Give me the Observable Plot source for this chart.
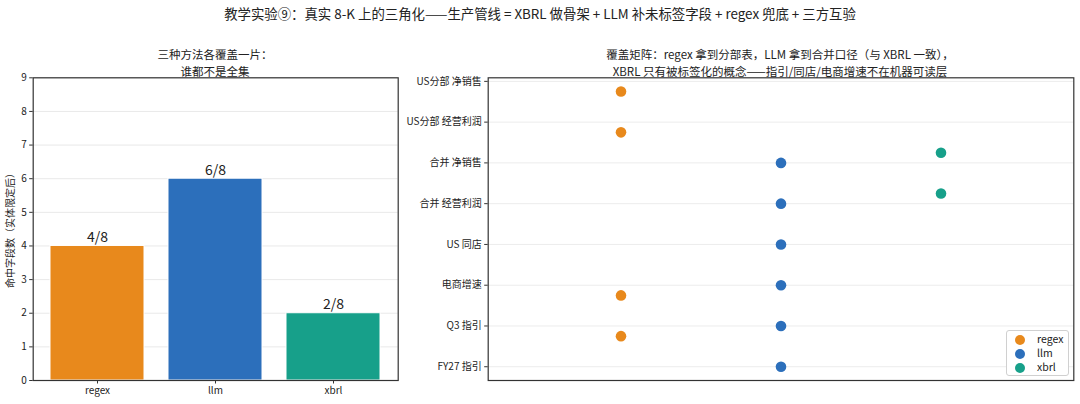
<!DOCTYPE html>
<html><head><meta charset="utf-8">
<script src="https://cdn.jsdelivr.net/npm/d3@7"></script>
<script src="https://cdn.jsdelivr.net/npm/@observablehq/plot@0.6"></script>
<style>
  html,body{margin:0;padding:0;background:#fff;}
  body{width:1080px;height:404px;overflow:hidden;font-family:"Noto Sans CJK SC","Noto Sans",sans-serif;color:#222;}
  #wrap{position:relative;width:1080px;height:404px;}
  .abs{position:absolute;}
  .title{left:0;width:1080px;top:4px;text-align:center;font-size:13.4px;line-height:18px;}
  .sub{text-align:center;font-size:11.5px;line-height:16px;white-space:nowrap;}
  .legend{border:1px solid #d0d0d0;border-radius:3px;background:#fff;font-size:10.5px;}
  .lg-row{position:absolute;left:0;height:14px;line-height:14px;}
  .lg-dot{position:absolute;width:10px;height:10px;border-radius:50%;top:2px;left:8px;}
  .lg-txt{position:absolute;left:30px;top:-1px;}
</style>
</head><body>
<div id="wrap"></div>
<script>
// ---- data ----
const methods = ["regex", "llm", "xbrl"];
const hitCounts = [4, 6, 2];
const totalFields = 8;
const methodColors = ["#E8891C", "#2C6FBB", "#17A08A"];
const fields = ["US分部 净销售", "US分部 经营利润", "合并 净销售", "合并 经营利润", "US 同店", "电商增速", "Q3 指引", "FY27 指引"];
const regexHits = ["US分部 净销售", "US分部 经营利润", "电商增速", "Q3 指引"];
const llmHits = ["合并 净销售", "合并 经营利润", "US 同店", "电商增速", "Q3 指引", "FY27 指引"];
const xbrlHits = ["合并 净销售", "合并 经营利润"];
const yTicksLeft = [0,1,2,3,4,5,6,7,8,9];

const mainTitle = "教学实验⑨：真实 8-K 上的三角化——生产管线 = XBRL 做骨架 + LLM 补未标签字段 + regex 兜底 + 三方互验";
const leftTitle = ["三种方法各覆盖一片：", "谁都不是全集"];
const rightTitle = ["覆盖矩阵：regex 拿到分部表，LLM 拿到合并口径（与 XBRL 一致），", "XBRL 只有被标签化的概念——指引/同店/电商增速不在机器可读层"];
const yLabelLeft = "命中字段数（实体限定后）";

// ---- build tables ----
const barData = methods.map((m, i) => ({method: m, hits: hitCounts[i], label: `${hitCounts[i]}/${totalFields}`}));
const hitLists = {regex: regexHits, llm: llmHits, xbrl: xbrlHits};
const rowOffset = {regex: 0.25, llm: 0, xbrl: -0.25};
const dotData = methods.flatMap((m, mi) => hitLists[m].map(f => ({method: m, mi, fi: fields.indexOf(f)})));

const wrap = document.getElementById("wrap");
const font = '"Noto Sans CJK SC","Noto Sans",sans-serif';
const colorScale = {domain: methods, range: methodColors};

function add(el, cls, css, html) {
  const d = document.createElement("div");
  d.className = "abs " + (cls || "");
  Object.assign(d.style, css || {});
  if (html != null) d.innerHTML = html;
  el.appendChild(d);
  return d;
}

add(wrap, "title", {}, mainTitle);
leftTitle.forEach((t, i) => add(wrap, "sub", {left: "15px", width: "400px", top: (46 + i * 16.5) + "px"}, t));
rightTitle.forEach((t, i) => add(wrap, "sub", {left: "480px", width: "600px", top: (46 + i * 16.5) + "px"}, t));

// ---- left chart ----
const left = Plot.plot({
  width: 410, height: 344,
  marginLeft: 32.7, marginRight: 12.3, marginTop: 17.3, marginBottom: 24,
  style: {fontFamily: font, fontSize: "10px", color: "#222", background: "transparent", overflow: "visible"},
  x: {domain: methods, paddingInner: 0.2, paddingOuter: 0.14, label: null},
  y: {domain: [0, 9], label: null},
  color: colorScale,
  marks: [
    Plot.gridY(yTicksLeft, {stroke: "#e9e9e9", strokeOpacity: 1, strokeWidth: 1}),
    Plot.barY(barData, {x: "method", y: "hits", fill: "method", stroke: "#ffffff", strokeWidth: 1}),
    Plot.text(barData, {x: "method", y: "hits", text: "label", lineAnchor: "bottom", dy: -4, fontSize: 14, fill: "#222"}),
    Plot.axisY({ticks: yTicksLeft, tickSize: 3.5, tickPadding: 3, label: null, stroke: "#333"}),
    Plot.axisX({tickSize: 3.5, tickPadding: 3, label: null, stroke: "#333"}),
    Plot.frame({stroke: "#333", strokeWidth: 1.2})
  ]
});
const lw = add(wrap, "", {left: "0px", top: "60px"});
lw.appendChild(left);
add(wrap, "", {left: "-52px", top: "222px", width: "124px", textAlign: "center", fontSize: "10px", lineHeight: "12px", transform: "rotate(-90deg)", whiteSpace: "nowrap"}, yLabelLeft);

// ---- right chart ----
const right = Plot.plot({
  width: 680, height: 344,
  marginLeft: 87.7, marginRight: 6.7, marginTop: 17.3, marginBottom: 24,
  style: {fontFamily: font, fontSize: "10px", color: "#222", background: "transparent", overflow: "visible"},
  x: {domain: [-0.83, 2.83], axis: null},
  y: {domain: [-0.0875, 7.3375], reverse: true, label: null},
  color: colorScale,
  marks: [
    Plot.gridY(d3.range(fields.length), {stroke: "#ececec", strokeOpacity: 1, strokeWidth: 1}),
    Plot.dot(dotData, {x: "mi", y: d => d.fi + rowOffset[d.method], fill: "method", r: 5.3}),
    Plot.axisY({ticks: d3.range(fields.length), tickFormat: i => fields[i], tickSize: 3.5, tickPadding: 3, label: null, stroke: "#333"}),
    Plot.frame({stroke: "#333", strokeWidth: 1.2})
  ]
});
const rw = add(wrap, "", {left: "400px", top: "60px"});
rw.appendChild(right);

// ---- legend ----
const lg = add(wrap, "legend", {left: "1006px", top: "330px", width: "61px", height: "44px"});
methods.forEach((m, i) => {
  const row = add(lg, "lg-row", {top: (2 + i * 14) + "px", width: "61px"});
  add(row, "lg-dot", {background: methodColors[i]});
  add(row, "lg-txt", {}, m);
});
</script>
</body></html>
